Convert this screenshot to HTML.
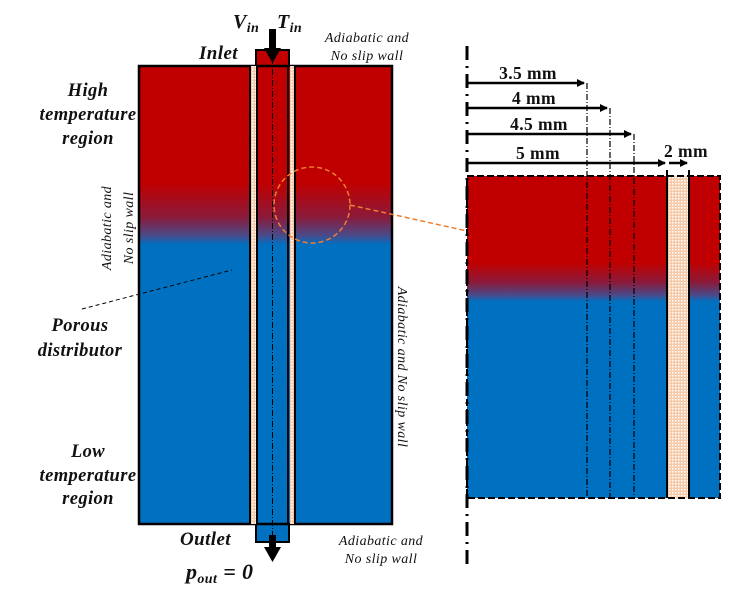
<!DOCTYPE html>
<html><head><meta charset="utf-8">
<style>
html,body{margin:0;padding:0;background:#fff;width:752px;height:596px;overflow:hidden}
text{font-family:"Liberation Serif",serif;font-style:italic;font-weight:bold;fill:#111;letter-spacing:0.4px}
.n{font-weight:normal}
</style></head>
<body>
<svg width="752" height="596" viewBox="0 0 752 596">
<defs>
<linearGradient id="gl" x1="0" y1="66" x2="0" y2="524" gradientUnits="userSpaceOnUse">
<stop offset="0.255" stop-color="#C00000"/><stop offset="0.33" stop-color="#8a1a3a"/>
<stop offset="0.37" stop-color="#4a4a8a"/><stop offset="0.39" stop-color="#0070C0"/><stop offset="1" stop-color="#0070C0"/>
</linearGradient>
<linearGradient id="gr" x1="0" y1="176" x2="0" y2="498" gradientUnits="userSpaceOnUse">
<stop offset="0.27" stop-color="#C00000"/><stop offset="0.33" stop-color="#8a1a3a"/>
<stop offset="0.37" stop-color="#4a4a8a"/><stop offset="0.39" stop-color="#0070C0"/><stop offset="1" stop-color="#0070C0"/>
</linearGradient>
<pattern id="por" width="3" height="3" patternUnits="userSpaceOnUse">
<rect width="3" height="3" fill="#f6c9a8"/><rect width="1.5" height="1.5" fill="#fff"/>
</pattern>
<marker id="ah" markerWidth="8" markerHeight="8" refX="7" refY="4" orient="auto" markerUnits="userSpaceOnUse">
<path d="M0,0 L8,4 L0,8 Z" fill="#000"/></marker>
</defs>

<g>
<rect x="256" y="50" width="33" height="16" fill="#C00000" stroke="#000" stroke-width="2"/>
<rect x="256" y="524" width="33" height="18" fill="#0070C0" stroke="#000" stroke-width="2"/>
<rect x="139" y="66" width="253" height="458" fill="url(#gl)" stroke="#000" stroke-width="2.5"/>
<rect x="251" y="66" width="5" height="458" fill="url(#por)"/>
<rect x="290" y="66" width="4" height="458" fill="url(#por)"/>
<line x1="250" y1="66" x2="250" y2="524" stroke="#000" stroke-width="2"/>
<line x1="257" y1="66" x2="257" y2="524" stroke="#000" stroke-width="2"/>
<line x1="288" y1="66" x2="288" y2="524" stroke="#000" stroke-width="2"/>
<line x1="295" y1="66" x2="295" y2="524" stroke="#000" stroke-width="2"/>
<line x1="272.5" y1="58" x2="272.5" y2="540" stroke="#000" stroke-width="1" stroke-dasharray="6,2,1,2"/>
</g>
<rect x="269" y="29" width="7" height="21" fill="#000"/>
<path d="M264,48 L281,48 L272.5,63 Z" fill="#000"/>
<rect x="269" y="535" width="7" height="14" fill="#000"/>
<path d="M264,547 L281,547 L272.5,562 Z" fill="#000"/>

<text x="233" y="28" font-size="20">V<tspan font-size="14" dy="4">in</tspan></text>
<text x="277" y="28" font-size="20">T<tspan font-size="14" dy="4">in</tspan></text>
<text x="199" y="59" font-size="19">Inlet</text>
<text x="367" y="42" font-size="14" text-anchor="middle" class="n">Adiabatic and</text>
<text x="367" y="60" font-size="14" text-anchor="middle" class="n">No slip wall</text>
<text x="180" y="545" font-size="19">Outlet</text>
<text x="186" y="579" font-size="22">p<tspan font-size="14" dy="4">out</tspan><tspan dy="-4"> = 0</tspan></text>
<text x="381" y="545" font-size="14" text-anchor="middle" class="n">Adiabatic and</text>
<text x="381" y="563" font-size="14" text-anchor="middle" class="n">No slip wall</text>

<text font-size="18.5" text-anchor="middle"><tspan x="88" y="96">High</tspan><tspan x="88" y="120">temperature</tspan><tspan x="88" y="144">region</tspan></text>
<text font-size="18.5" text-anchor="middle"><tspan x="80" y="331">Porous</tspan><tspan x="80" y="356">distributor</tspan></text>
<text font-size="18.5" text-anchor="middle"><tspan x="88" y="457">Low</tspan><tspan x="88" y="481">temperature</tspan><tspan x="88" y="504">region</tspan></text>
<line x1="82" y1="309" x2="232" y2="270" stroke="#000" stroke-width="1" stroke-dasharray="4,3"/>

<text font-size="14" text-anchor="middle" class="n" transform="translate(111,228) rotate(-90)">Adiabatic and</text>
<text font-size="14" text-anchor="middle" class="n" transform="translate(133,228) rotate(-90)">No slip wall</text>
<text font-size="14" text-anchor="middle" class="n" transform="translate(398,367) rotate(90)">Adiabatic and No slip wall</text>

<circle cx="312" cy="205" r="38" fill="none" stroke="#ED7D31" stroke-width="1.5" stroke-dasharray="5,3"/>
<line x1="350" y1="205" x2="467" y2="231" stroke="#ED7D31" stroke-width="1.5" stroke-dasharray="5,3"/>

<g>
<rect x="467" y="176" width="253" height="322" fill="url(#gr)"/>
<rect x="668" y="176" width="20" height="322" fill="url(#por)"/>
<line x1="667" y1="170" x2="667" y2="498" stroke="#000" stroke-width="2"/>
<line x1="689" y1="170" x2="689" y2="498" stroke="#000" stroke-width="2"/>
<rect x="467" y="176" width="253" height="322" fill="none" stroke="#000" stroke-width="2" stroke-dasharray="7,3"/>
<line x1="587" y1="83" x2="587" y2="498" stroke="#000" stroke-width="1.2" stroke-dasharray="6,2,1,2"/>
<line x1="610" y1="108" x2="610" y2="498" stroke="#000" stroke-width="1.2" stroke-dasharray="6,2,1,2"/>
<line x1="634" y1="134" x2="634" y2="498" stroke="#000" stroke-width="1.2" stroke-dasharray="6,2,1,2"/>
</g>
<line x1="467" y1="46" x2="467" y2="565" stroke="#000" stroke-width="3" stroke-dasharray="14,6,2,6"/>

<g stroke="#000" stroke-width="2.5">
<line x1="467" y1="83" x2="584" y2="83" marker-end="url(#ah)"/>
<line x1="467" y1="108" x2="607" y2="108" marker-end="url(#ah)"/>
<line x1="467" y1="134" x2="631" y2="134" marker-end="url(#ah)"/>
<line x1="467" y1="163" x2="665" y2="163" marker-end="url(#ah)"/>
<line x1="669" y1="163" x2="687" y2="163" marker-end="url(#ah)"/>
</g>
<text x="528" y="79" font-size="17.5" text-anchor="middle" style="font-style:normal">3.5 mm</text>
<text x="534" y="104" font-size="17.5" text-anchor="middle" style="font-style:normal">4 mm</text>
<text x="539" y="130" font-size="17.5" text-anchor="middle" style="font-style:normal">4.5 mm</text>
<text x="538" y="159" font-size="17.5" text-anchor="middle" style="font-style:normal">5 mm</text>
<text x="686" y="157" font-size="17.5" text-anchor="middle" style="font-style:normal">2 mm</text>
</svg>
</body></html>
